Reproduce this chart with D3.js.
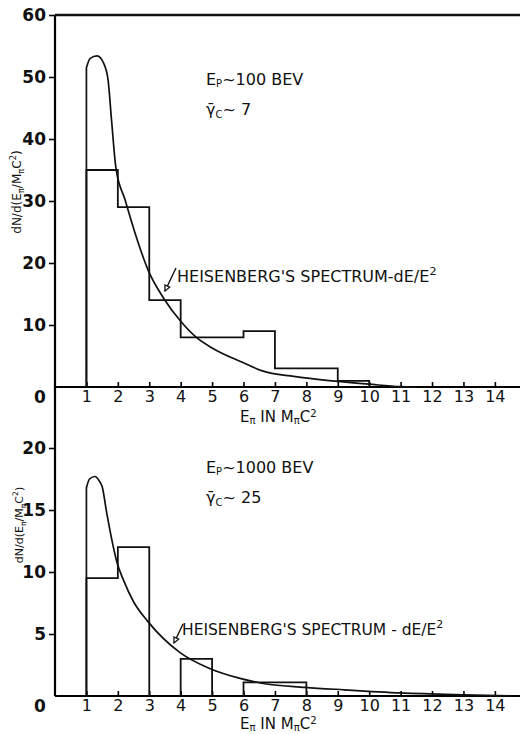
<!DOCTYPE html>
<html>
<head>
<meta charset="utf-8">
<script src="https://cdn.jsdelivr.net/npm/d3@7"></script>
<style>
  body { margin: 0; background: #fff; }
  text { font-family: "DejaVu Sans", sans-serif; fill: #111; }
</style>
</head>
<body>
<div id="chart"></div>
<script>
var W = 521, H = 734;

// x ticks shared by both panels
var xTicks = [1,2,3,4,5,6,7,8,9,10,11,12,13,14];

// top panel: Ep ~ 100 BEV
var topBins = [[1,2,35],[2,3,29],[3,4,14],[4,6,8],[6,7,9],[7,9,3],[9,10,1]];
var topCurve = [[1,0],[1,51.5],[1.12,53],[1.34,53.4],[1.55,52.2],[1.69,49.5],[1.8,43],[1.94,35.3],
  [2.23,30.2],[2.6,24],[2.96,18.9],[3.5,14],[4,10.6],[4.5,8],[5,6.3],[6,3.9],[6.6,2.6],
  [7.6,1.7],[9,0.9],[10,0.45],[11,0.05],[11.5,0]];
var topYTicks = [10,20,30,40,50,60];

// bottom panel: Ep ~ 1000 BEV
var botBins = [[1,2,9.5],[2,3,12],[4,5,3],[6,8,1.1]];
var botCurve = [[1,0],[1,16.8],[1.1,17.5],[1.27,17.7],[1.42,17.3],[1.5,16.9],[1.65,14.7],[1.98,10.7],
  [2.17,9.4],[2.5,7.6],[2.96,6.0],[3.98,3.5],[4.94,2.2],[5.92,1.4],[6.53,1.05],[7.96,0.7],
  [9.2,0.5],[11,0.25],[13,0.1],[14.5,0.02]];
var botYTicks = [5,10,15,20];

var svg = d3.select("#chart").append("svg").attr("width", W).attr("height", H);

var x = d3.scaleLinear().domain([0,14.8]).range([55,520]);
var yTop = d3.scaleLinear().domain([0,60]).range([387,15]);
var yBot = d3.scaleLinear().domain([0,25]).range([696,386]);

function stepPath(bins, y) {
  var p = d3.path(), prev = null;
  bins.forEach(function(b) {
    if (!prev) p.moveTo(x(b[0]), y(0));
    else if (prev[1] != b[0]) { p.lineTo(x(prev[1]), y(0)); p.moveTo(x(b[0]), y(0)); }
    p.lineTo(x(b[0]), y(b[2]));
    p.lineTo(x(b[1]), y(b[2]));
    prev = b;
  });
  p.lineTo(x(prev[1]), y(0));
  return p.toString();
}

function panel(y, bins, curve, yTicks, yTop0, withTopLine) {
  var g = svg.append("g");
  // x axis, ticks pointing up
  var ax = g.append("g").attr("transform", "translate(0," + y(0) + ")")
    .call(d3.axisBottom(x).tickValues(xTicks).tickSize(-5).tickPadding(4).tickFormat(d3.format("d")));
  ax.select(".domain").attr("stroke-width", 2.2).attr("d", "M" + x(0) + ",0H520");
  ax.selectAll(".tick line").attr("stroke-width", 1.6);
  ax.selectAll(".tick text").attr("font-size", 16).style("font-family", "DejaVu Sans");
  // y axis
  var ay = g.append("g").attr("transform", "translate(" + x(0) + ",0)")
    .call(d3.axisLeft(y).tickValues(yTicks).tickSize(6).tickPadding(3));
  ay.select(".domain").attr("stroke-width", 2.2).attr("d", "M0," + y(0) + "V" + yTop0);
  ay.selectAll(".tick line").attr("stroke-width", 1.6);
  ay.selectAll(".tick text").attr("font-size", 17).attr("font-weight", "bold").style("font-family", "DejaVu Sans");
  g.append("text").attr("x", 40).attr("y", y(0) + 16).attr("text-anchor", "middle")
    .attr("font-size", 17).attr("font-weight", "bold").text("0");
  if (withTopLine) g.append("line").attr("x1", x(0)).attr("x2", 520).attr("y1", yTop0).attr("y2", yTop0)
    .attr("stroke", "#111").attr("stroke-width", 2.4);

  g.append("path").attr("d", stepPath(bins, y)).attr("fill", "none")
    .attr("stroke", "#111").attr("stroke-width", 1.8);
  var line = d3.line().x(function(d){ return x(d[0]); }).y(function(d){ return y(d[1]); })
    .curve(d3.curveMonotoneX);
  g.append("path").attr("d", "M" + x(curve[0][0]) + "," + y(curve[0][1]) + "L" + line(curve.slice(1)).slice(1))
    .attr("fill", "none").attr("stroke", "#111").attr("stroke-width", 1.7);
  return g;
}

var gt = panel(yTop, topBins, topCurve, topYTicks, 15, true);
var gb = panel(yBot, botBins, botCurve, botYTicks, 386, false);

function yLabel(g, cx, cy, fs) {
  var t = g.append("text").attr("transform", "translate(" + cx + "," + cy + ") rotate(-90)")
    .attr("text-anchor", "middle").attr("font-size", fs);
  t.append("tspan").text("dN/d(E");
  t.append("tspan").attr("font-size", fs * 0.7).attr("dy", 3).text("π");
  t.append("tspan").attr("dy", -3).text("/M");
  t.append("tspan").attr("font-size", fs * 0.7).attr("dy", 3).text("π");
  t.append("tspan").attr("dy", -3).text("C");
  t.append("tspan").attr("font-size", fs * 0.7).attr("dy", -5).text("2");
  t.append("tspan").attr("dy", 5).text(")");
}
yLabel(gt, 21, 192, 12);
yLabel(gb, 23, 525, 11);

function xLabel(g, x0, by) {
  var t = g.append("text").attr("x", x0).attr("y", by).attr("font-size", 15);
  t.append("tspan").text("E");
  t.append("tspan").attr("font-size", 10).attr("dy", 2).text("π");
  t.append("tspan").attr("dy", -2).text(" IN M");
  t.append("tspan").attr("font-size", 10).attr("dy", 2).text("π");
  t.append("tspan").attr("dy", -2).text("C");
  t.append("tspan").attr("font-size", 10).attr("dy", -5).text("2");
}
xLabel(gt, 240, 422);
xLabel(gb, 240, 729);

function info(g, x0, by, ep, gam) {
  var t = g.append("text").attr("x", x0).attr("y", by).attr("font-size", 16);
  t.append("tspan").text("E");
  t.append("tspan").attr("font-size", 10).attr("dy", 2).text("P");
  t.append("tspan").attr("dy", -2).text("~" + ep + " BEV");
  var t2 = g.append("text").attr("x", x0).attr("y", by + 30).attr("font-size", 16);
  t2.append("tspan").text("γ\u0304");
  t2.append("tspan").attr("font-size", 10).attr("dy", 3).text("C");
  t2.append("tspan").attr("dy", -3).text("~ " + gam);
}
info(gt, 206, 85, "100", "7");
info(gb, 206, 473, "1000", "25");

function heis(g, x0, by, sep, fs, ax1, ay1, ax2, ay2) {
  var t = g.append("text").attr("x", x0).attr("y", by).attr("font-size", fs);
  t.append("tspan").text("HEISENBERG'S SPECTRUM" + sep + "dE/E");
  t.append("tspan").attr("font-size", fs * 0.7).attr("dy", -7).text("2");
  g.append("line").attr("x1", ax1).attr("y1", ay1).attr("x2", ax2).attr("y2", ay2)
    .attr("stroke", "#111").attr("stroke-width", 1.4);
  var a = Math.atan2(ay2 - ay1, ax2 - ax1), s = 6;
  var p1 = [ax2 - s*Math.cos(a - 0.45), ay2 - s*Math.sin(a - 0.45)];
  var p2 = [ax2 - s*Math.cos(a + 0.45), ay2 - s*Math.sin(a + 0.45)];
  g.append("path").attr("d", "M" + ax2 + "," + ay2 + "L" + p1 + "L" + p2 + "Z")
    .attr("fill", "#fff").attr("stroke", "#111").attr("stroke-width", 1.3);
}
heis(gt, 177, 282, "-", 16, 176, 268, 165, 291);
heis(gb, 182, 635, " - ", 15.5, 183, 624, 174, 643);
</script>
</body>
</html>
